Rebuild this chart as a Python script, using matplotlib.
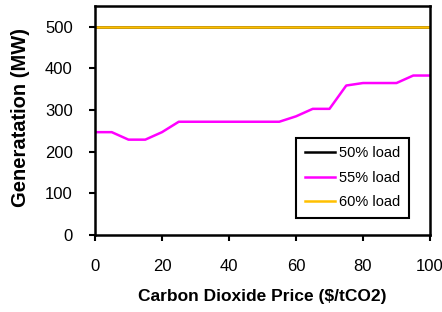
import numpy as np
import matplotlib
matplotlib.use("Agg")
from matplotlib import pyplot as plt

plt.rcParams['font.family'] = ['Liberation Sans', 'DejaVu Sans']

# carbon price ($/tCO2)
price = [0, 5, 10, 15, 20, 25, 30, 35, 40, 45, 50, 55, 60, 65, 70, 75, 80, 85, 90, 95, 100]
# generation (MW) per load level
gen_50 = [500] * 21
gen_55 = [247, 247, 229, 229, 247, 272, 272, 272, 272, 272, 272, 272,
          285, 303, 303, 359, 365, 365, 365, 383, 383]
gen_60 = [500] * 21

W, H = 442, 312
fig = plt.figure(figsize=(W/100, H/100), dpi=100)
ax = fig.add_axes([95/W, (H-235)/H, 335/W, 229/H])

ax.plot(price, gen_50, color='black', lw=1.8, label='50% load')
ax.plot(price, gen_55, color='#ff00ff', lw=1.8, label='55% load')
ax.plot(price, gen_60, color='#ffc000', lw=1.8, label='60% load')

ax.set_xlim(0, 100)
ax.set_ylim(0, 550)
ax.set_xticks(np.arange(0, 101, 20))
ax.set_yticks(np.arange(0, 501, 100))
ax.tick_params(direction='out', length=4, width=1.5, labelsize=12)
ax.tick_params(axis='x', pad=13)
ax.tick_params(axis='y', pad=12)
for s in ax.spines.values():
    s.set_linewidth(1.8)

ax.set_xlabel('Carbon Dioxide Price ($/tCO2)', fontsize=12.5, fontweight='bold')
ax.set_ylabel('Generatation (MW)', fontsize=14.5, fontweight='bold')
ax.xaxis.set_label_coords(0.5, -(297-235)/229, transform=ax.transAxes)
ax.yaxis.set_label_coords(-(95-20.5)/335, 0.5 + 3/229, transform=ax.transAxes)
ax.xaxis.label.set_va('center')
ax.yaxis.label.set_va('center')

leg = ax.legend(loc='lower right', bbox_to_anchor=(0.937, 0.074), fontsize=10.5,
                frameon=True, fancybox=False, framealpha=1, edgecolor='black',
                handlelength=2.1, borderpad=0.6, labelspacing=0.72, handletextpad=0.25,
                borderaxespad=0)
leg.get_frame().set_linewidth(1.5)

fig.savefig('out.png', dpi=100)
